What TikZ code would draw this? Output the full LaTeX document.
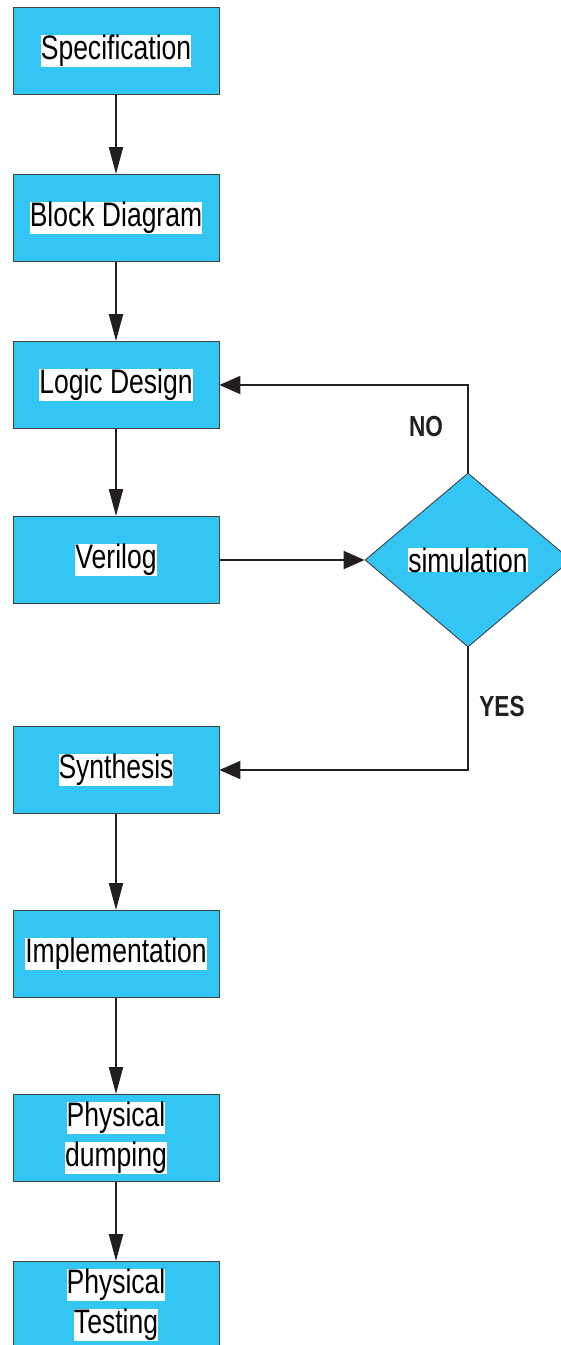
\documentclass[tikz,border=0pt]{standalone}
\usepackage{fontspec}
\setmainfont{Liberation Sans}[FakeStretch=0.78]
\usetikzlibrary{arrows.meta,shapes.geometric}
\definecolor{stagecyan}{RGB}{51,197,243}
\definecolor{inkline}{RGB}{35,31,32}
\newcommand{\whitebg}[1]{{\setlength{\fboxsep}{0pt}\colorbox{white}{#1}}}

\begin{document}
\begin{tikzpicture}[x=1pt, y=1pt, node distance = 167pt,
    stage/.style={rectangle, draw=inkline!85, line width=0.9pt, fill=stagecyan,
                  minimum width=206pt, minimum height=87pt, inner sep=0pt,
                  align=center, font=\fontsize{34}{40}\selectfont},
    decision/.style={diamond, draw=inkline!85, line width=0.9pt, fill=stagecyan,
                     minimum width=206pt, minimum height=174pt, inner sep=0pt,
                     font=\fontsize{34}{40}\selectfont},
    answer/.style={font=\fontsize{29}{34}\selectfont\bfseries, text=inkline},
    down/.style={-{Triangle[length=27pt, width=14pt]}, line width=2pt, draw=inkline},
    side/.style={-{Triangle[length=21pt, width=18pt]}, line width=2pt, draw=inkline}]
  \useasboundingbox (0,0) rectangle (561,-1345);

  \node[stage] (spec) at (116,-51) {\whitebg{Specification}};
  \node[stage, below of=spec] (block) {\whitebg{Block Diagram}};
  \node[stage, below of=block] (logic) {\whitebg{Logic Design}};
  \node[stage, below of=logic, yshift=-8pt] (verilog) {\whitebg{Verilog}};
  \node[stage, below of=verilog, yshift=-43pt] (synth) {\whitebg{Synthesis}};
  \node[stage, below of=synth, yshift=-17pt] (impl) {\whitebg{Implementation}};
  \node[stage, below of=impl, yshift=-17pt] (dump) {\whitebg{Physical}\\\whitebg{dumping}};
  \node[stage, below of=dump] (test) {\whitebg{Physical}\\\whitebg{Testing}};

  \node[decision, right of=verilog, xshift=185pt] (sim) {\whitebg{simulation}};

  \node[answer] (no) at (426,-427) {NO};
  \node[answer] (yes) at (502,-707) {YES};

  \draw[down] (spec)--(block);
  \draw[down] (block)--(logic);
  \draw[down] (logic)--(verilog);
  \draw[down] (synth)--(impl);
  \draw[down] (impl)--(dump);
  \draw[down] (dump)--(test);

  \draw[side] (verilog)--(sim);
  \draw[side] (sim.north) |- (logic);
  \draw[side] (sim.south) |- (synth);
\end{tikzpicture}
\end{document}
